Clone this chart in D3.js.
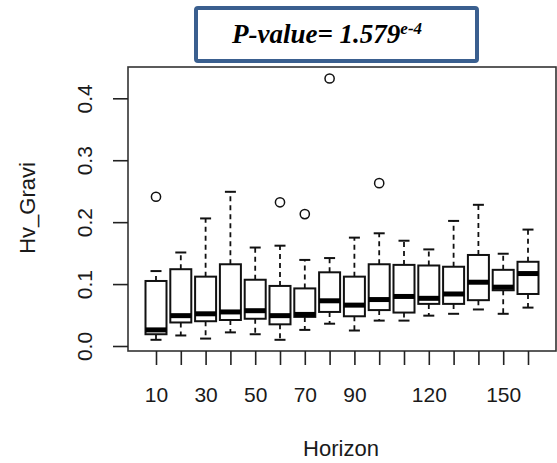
<!DOCTYPE html>
<html>
<head>
<meta charset="utf-8">
<script src="https://cdn.jsdelivr.net/npm/d3@7"></script>
<style>
  body { margin: 0; background: #fff; }
  svg { display: block; }
</style>
</head>
<body>
<svg id="chart" width="557" height="463"></svg>
<script>
// Horizon categories and the five-number summary of each box
const horizons = [10, 20, 30, 40, 50, 60, 70, 80, 90, 100, 110, 120, 130, 140, 150, 160]
const whiskerLow = [0.010, 0.017, 0.012, 0.022, 0.019, 0.010, 0.026, 0.036, 0.025, 0.041, 0.041, 0.049, 0.052, 0.059, 0.052, 0.062]
const q1 = [0.019, 0.038, 0.040, 0.042, 0.044, 0.035, 0.047, 0.055, 0.048, 0.058, 0.054, 0.068, 0.068, 0.074, 0.090, 0.084]
const medians = [0.026, 0.049, 0.052, 0.055, 0.057, 0.049, 0.051, 0.073, 0.066, 0.075, 0.080, 0.077, 0.084, 0.103, 0.095, 0.117]
const q3 = [0.105, 0.124, 0.112, 0.132, 0.107, 0.097, 0.093, 0.119, 0.112, 0.132, 0.131, 0.130, 0.128, 0.147, 0.123, 0.136]
const whiskerHigh = [0.121, 0.151, 0.206, 0.249, 0.159, 0.162, 0.139, 0.142, 0.175, 0.182, 0.170, 0.156, 0.202, 0.228, 0.149, 0.188]
// outliers: [horizon, value]
const outliers = [[10, 0.241], [60, 0.232], [70, 0.213], [80, 0.432], [100, 0.263]]

const yTicks = [0, 0.1, 0.2, 0.3, 0.4]
const xLabels = [10, 30, 50, 70, 90, 120, 150]

const svg = d3.select("#chart")

const frame = {left: 128, right: 556, top: 67, bottom: 351}

const x = d3.scalePoint()
    .domain(horizons)
    .range([156, 528])

const y = d3.scaleLinear()
    .domain([0, 0.4])
    .range([346, 98.3])

const boxW = 21
const capW = 11

// Plot frame
svg.append("rect")
    .attr("x", frame.left)
    .attr("y", frame.top)
    .attr("width", frame.right - frame.left)
    .attr("height", frame.bottom - frame.top)
    .attr("fill", "none")
    .attr("stroke", "#333")
    .attr("stroke-width", 1.6)

// Boxes
const boxes = svg.append("g")
    .selectAll("g")
    .data(horizons.map((h, i) => ({h, lo: whiskerLow[i], q1: q1[i], med: medians[i], q3: q3[i], hi: whiskerHigh[i]})))
    .join("g")
    .attr("transform", d => `translate(${x(d.h)},0)`)

// dashed whiskers
boxes.append("line")
    .attr("y1", d => y(d.q3)).attr("y2", d => y(d.hi))
    .attr("stroke", "#111").attr("stroke-width", 1.8).attr("stroke-dasharray", "5,4")
boxes.append("line")
    .attr("y1", d => y(d.q1)).attr("y2", d => y(d.lo))
    .attr("stroke", "#111").attr("stroke-width", 1.8).attr("stroke-dasharray", "5,4")

// staples
boxes.append("line")
    .attr("x1", -capW / 2).attr("x2", capW / 2)
    .attr("y1", d => y(d.hi)).attr("y2", d => y(d.hi))
    .attr("stroke", "#111").attr("stroke-width", 2)
boxes.append("line")
    .attr("x1", -capW / 2).attr("x2", capW / 2)
    .attr("y1", d => y(d.lo)).attr("y2", d => y(d.lo))
    .attr("stroke", "#111").attr("stroke-width", 2)

boxes.append("rect")
    .attr("x", -boxW / 2)
    .attr("width", boxW)
    .attr("y", d => y(d.q3))
    .attr("height", d => y(d.q1) - y(d.q3))
    .attr("fill", "#fff")
    .attr("stroke", "#111")
    .attr("stroke-width", 2)

// median
boxes.append("line")
    .attr("x1", -boxW / 2).attr("x2", boxW / 2)
    .attr("y1", d => y(d.med)).attr("y2", d => y(d.med))
    .attr("stroke", "#000").attr("stroke-width", 5)

// outliers
svg.append("g")
    .selectAll("circle")
    .data(outliers)
    .join("circle")
    .attr("cx", d => x(d[0]))
    .attr("cy", d => y(d[1]))
    .attr("r", 4.6)
    .attr("fill", "none")
    .attr("stroke", "#111")
    .attr("stroke-width", 1.5)

// X axis
const xAxis = svg.append("g")
    .attr("transform", `translate(0,${frame.bottom})`)
    .call(d3.axisBottom(x)
        .tickSize(14)
        .tickSizeOuter(0)
        .tickFormat(d => xLabels.includes(d) ? d : ""))
xAxis.select(".domain").remove()
xAxis.selectAll(".tick line").attr("stroke", "#222").attr("stroke-width", 1.6)
xAxis.selectAll(".tick text")
    .attr("y", 51)
    .attr("dy", 0)
    .attr("fill", "#1a1a1a")
    .style("font-family", "'Liberation Sans', Arial, sans-serif")
    .style("font-size", "21px")

// Y axis
const yAxis = svg.append("g")
    .attr("transform", `translate(${frame.left},0)`)
    .call(d3.axisLeft(y)
        .tickValues(yTicks)
        .tickSize(15)
        .tickSizeOuter(0)
        .tickFormat(d3.format(".1f")))
yAxis.select(".domain").remove()
yAxis.selectAll(".tick line").attr("stroke", "#222").attr("stroke-width", 1.6)
yAxis.selectAll(".tick text")
    .attr("transform", "rotate(-90)")
    .attr("x", 0)
    .attr("y", -36)
    .attr("dy", 0)
    .attr("text-anchor", "middle")
    .attr("fill", "#1a1a1a")
    .style("font-family", "'Liberation Sans', Arial, sans-serif")
    .style("font-size", "21px")

// Axis titles
svg.append("text")
    .attr("x", 341)
    .attr("y", 456)
    .attr("text-anchor", "middle")
    .attr("fill", "#1a1a1a")
    .style("font-family", "'Liberation Sans', Arial, sans-serif")
    .style("font-size", "22px")
    .text("Horizon")

svg.append("text")
    .attr("transform", "translate(35,208) rotate(-90)")
    .attr("text-anchor", "middle")
    .attr("fill", "#1a1a1a")
    .style("font-family", "'Liberation Sans', Arial, sans-serif")
    .style("font-size", "22px")
    .text("Hv_Gravi")

// P-value box
svg.append("rect")
    .attr("x", 196)
    .attr("y", 8)
    .attr("width", 281)
    .attr("height", 53)
    .attr("rx", 2)
    .attr("fill", "#fff")
    .attr("stroke", "#3a5f8f")
    .attr("stroke-width", 4)

const pText = svg.append("text")
    .attr("x", 232)
    .attr("y", 43)
    .attr("fill", "#000")
    .style("font-family", "'Liberation Serif', 'Times New Roman', serif")
    .style("font-weight", "bold")
    .style("font-style", "italic")
    .style("font-size", "27px")
pText.append("tspan").text("P-value= 1.579")
pText.append("tspan")
    .attr("dy", -9)
    .style("font-size", "17px")
    .text("e-4")
</script>
</body>
</html>
